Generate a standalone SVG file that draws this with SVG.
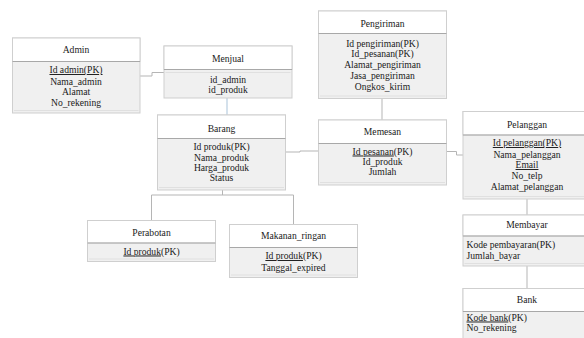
<svg xmlns="http://www.w3.org/2000/svg" width="584" height="338" viewBox="0 0 584 338">
<style>
.hd{fill:#ffffff;stroke:#cfcfcf;stroke-width:1}
.bd{fill:#f0f0f0;stroke:#cfcfcf;stroke-width:1}
.dv{stroke:#a8a8a8;stroke-width:1}
.ln{stroke:#e0e0e0;stroke-width:1}
text{font-family:"Liberation Serif","Times New Roman",serif;font-size:9.6px;fill:#1a1a1a}
.c{text-anchor:middle}
.u{text-decoration:underline}
.cn{fill:none;stroke:#b5b5b5;stroke-width:1}
.cb{fill:none;stroke:#a9c3d9;stroke-width:1}
</style>
<rect width="584" height="338" fill="#ffffff"/>
<g id="connectors">
<polyline class="cn" points="140,76 152,76 152,72.5 164,72.5"/>
<line class="cb" x1="227" y1="98" x2="227" y2="115"/>
<polyline class="cn" points="285.5,152 300,152 300,151 318.5,151"/>
<line class="cn" x1="382" y1="98.5" x2="382" y2="120"/>
<polyline class="cn" points="446.5,151.5 456.5,151.5 456.5,155 463,155"/>
<line class="cn" x1="527" y1="199" x2="527" y2="215"/>
<line class="cn" x1="527" y1="266" x2="527" y2="288.5"/>
<polyline class="cn" points="222.5,190 222.5,195"/>
<polyline class="cn" points="151.5,220.5 151.5,195 293.5,195 293.5,224.5"/>
</g>
<g id="admin">
<rect class="bd" x="12.5" y="38" width="127.5" height="75"/>
<rect class="hd" x="12.5" y="38" width="127.5" height="23.5"/>
<line class="dv" x1="12.5" y1="61.5" x2="140" y2="61.5"/>
<line class="ln" x1="14" y1="110.5" x2="138.5" y2="110.5"/>
<text class="c" x="76" y="52.5">Admin</text>
<text class="c u" x="76" y="73">Id admin(PK)</text>
<text class="c" x="76" y="84.5">Nama_admin</text>
<text class="c" x="76" y="95">Alamat</text>
<text class="c" x="76" y="106">No_rekening</text>
</g>
<g id="menjual">
<rect class="bd" x="164" y="46" width="128" height="52"/>
<rect class="hd" x="164" y="46" width="128" height="23.5"/>
<line class="dv" x1="164" y1="69.5" x2="292" y2="69.5"/>
<line class="ln" x1="165.5" y1="72.5" x2="290.5" y2="72.5"/>
<text class="c" x="228" y="61.5">Menjual</text>
<text class="c" x="228" y="83">id_admin</text>
<text class="c" x="228" y="93">id_produk</text>
</g>
<g id="barang">
<rect class="bd" x="157.5" y="115" width="128" height="75"/>
<rect class="hd" x="157.5" y="115" width="128" height="23.5"/>
<line class="dv" x1="157.5" y1="138.5" x2="285.5" y2="138.5"/>
<line class="ln" x1="159" y1="187.5" x2="284" y2="187.5"/>
<text class="c" x="221.5" y="131.5">Barang</text>
<text class="c" x="221.5" y="149.5">Id produk(PK)</text>
<text class="c" x="221.5" y="160.5">Nama_produk</text>
<text class="c" x="221.5" y="170.5">Harga_produk</text>
<text class="c" x="221.5" y="181">Status</text>
</g>
<g id="pengiriman">
<rect class="bd" x="318.5" y="11" width="128" height="87.5"/>
<rect class="hd" x="318.5" y="11" width="128" height="22.5"/>
<line class="dv" x1="318.5" y1="33.5" x2="446.5" y2="33.5"/>
<line class="ln" x1="320" y1="96" x2="445" y2="96"/>
<text class="c" x="382.5" y="27">Pengiriman</text>
<text class="c" x="382.5" y="46.5">Id pengiriman(PK)</text>
<text class="c" x="382.5" y="56.5">Id_pesanan(PK)</text>
<text class="c" x="382.5" y="68">Alamat_pengiriman</text>
<text class="c" x="382.5" y="79">Jasa_pengiriman</text>
<text class="c" x="382.5" y="90">Ongkos_kirim</text>
</g>
<g id="memesan">
<rect class="bd" x="318.5" y="120" width="128" height="65"/>
<rect class="hd" x="318.5" y="120" width="128" height="23.5"/>
<line class="dv" x1="318.5" y1="143.5" x2="446.5" y2="143.5"/>
<line class="ln" x1="320" y1="182.5" x2="445" y2="182.5"/>
<text class="c" x="382.5" y="134.5">Memesan</text>
<text class="c" x="382.5" y="154.5"><tspan class="u">Id pesanan</tspan>(PK)</text>
<text class="c" x="382.5" y="165">Id_produk</text>
<text class="c" x="382.5" y="175">Jumlah</text>
</g>
<g id="pelanggan">
<rect class="bd" x="463" y="111.5" width="130" height="87.5"/>
<rect class="hd" x="463" y="111.5" width="130" height="23.5"/>
<line class="dv" x1="463" y1="135" x2="593" y2="135"/>
<line class="ln" x1="464.5" y1="196.5" x2="593" y2="196.5"/>
<text class="c" x="527" y="128">Pelanggan</text>
<text class="c u" x="527" y="146">Id pelanggan(PK)</text>
<text class="c" x="527" y="158">Nama_pelanggan</text>
<text class="c u" x="527" y="168">Email</text>
<text class="c" x="527" y="179">No_telp</text>
<text class="c" x="527" y="190">Alamat_pelanggan</text>
</g>
<g id="membayar">
<rect class="bd" x="463" y="215" width="130" height="51"/>
<rect class="hd" x="463" y="215" width="130" height="21"/>
<line class="dv" x1="463" y1="236" x2="593" y2="236"/>
<line class="ln" x1="464.5" y1="263.5" x2="593" y2="263.5"/>
<text class="c" x="527" y="228">Membayar</text>
<text x="466.5" y="248">Kode pembayaran(PK)</text>
<text x="466.5" y="259">Jumlah_bayar</text>
</g>
<g id="bank">
<rect class="bd" x="463" y="288.5" width="130" height="52"/>
<rect class="hd" x="463" y="288.5" width="130" height="23"/>
<line class="dv" x1="463" y1="311.5" x2="593" y2="311.5"/>
<text class="c" x="527" y="303">Bank</text>
<text x="466.5" y="320.5"><tspan class="u">Kode bank</tspan>(PK)</text>
<text x="466.5" y="331">No_rekening</text>
</g>
<g id="perabotan">
<rect class="bd" x="87.5" y="220.5" width="128" height="41"/>
<rect class="hd" x="87.5" y="220.5" width="128" height="22.5"/>
<line class="dv" x1="87.5" y1="243" x2="215.5" y2="243"/>
<line class="ln" x1="89" y1="259" x2="214" y2="259"/>
<text class="c" x="151.5" y="235.5">Perabotan</text>
<text class="c" x="151.5" y="254.5"><tspan class="u">Id produk</tspan>(PK)</text>
</g>
<g id="makanan_ringan">
<rect class="bd" x="229.5" y="224.5" width="128" height="53"/>
<rect class="hd" x="229.5" y="224.5" width="128" height="23"/>
<line class="dv" x1="229.5" y1="247.5" x2="357.5" y2="247.5"/>
<line class="ln" x1="231" y1="275" x2="356" y2="275"/>
<text class="c" x="293.5" y="239">Makanan_ringan</text>
<text class="c" x="293.5" y="259"><tspan class="u">Id produk</tspan>(PK)</text>
<text class="c" x="293.5" y="270.5">Tanggal_expired</text>
</g>
</svg>
